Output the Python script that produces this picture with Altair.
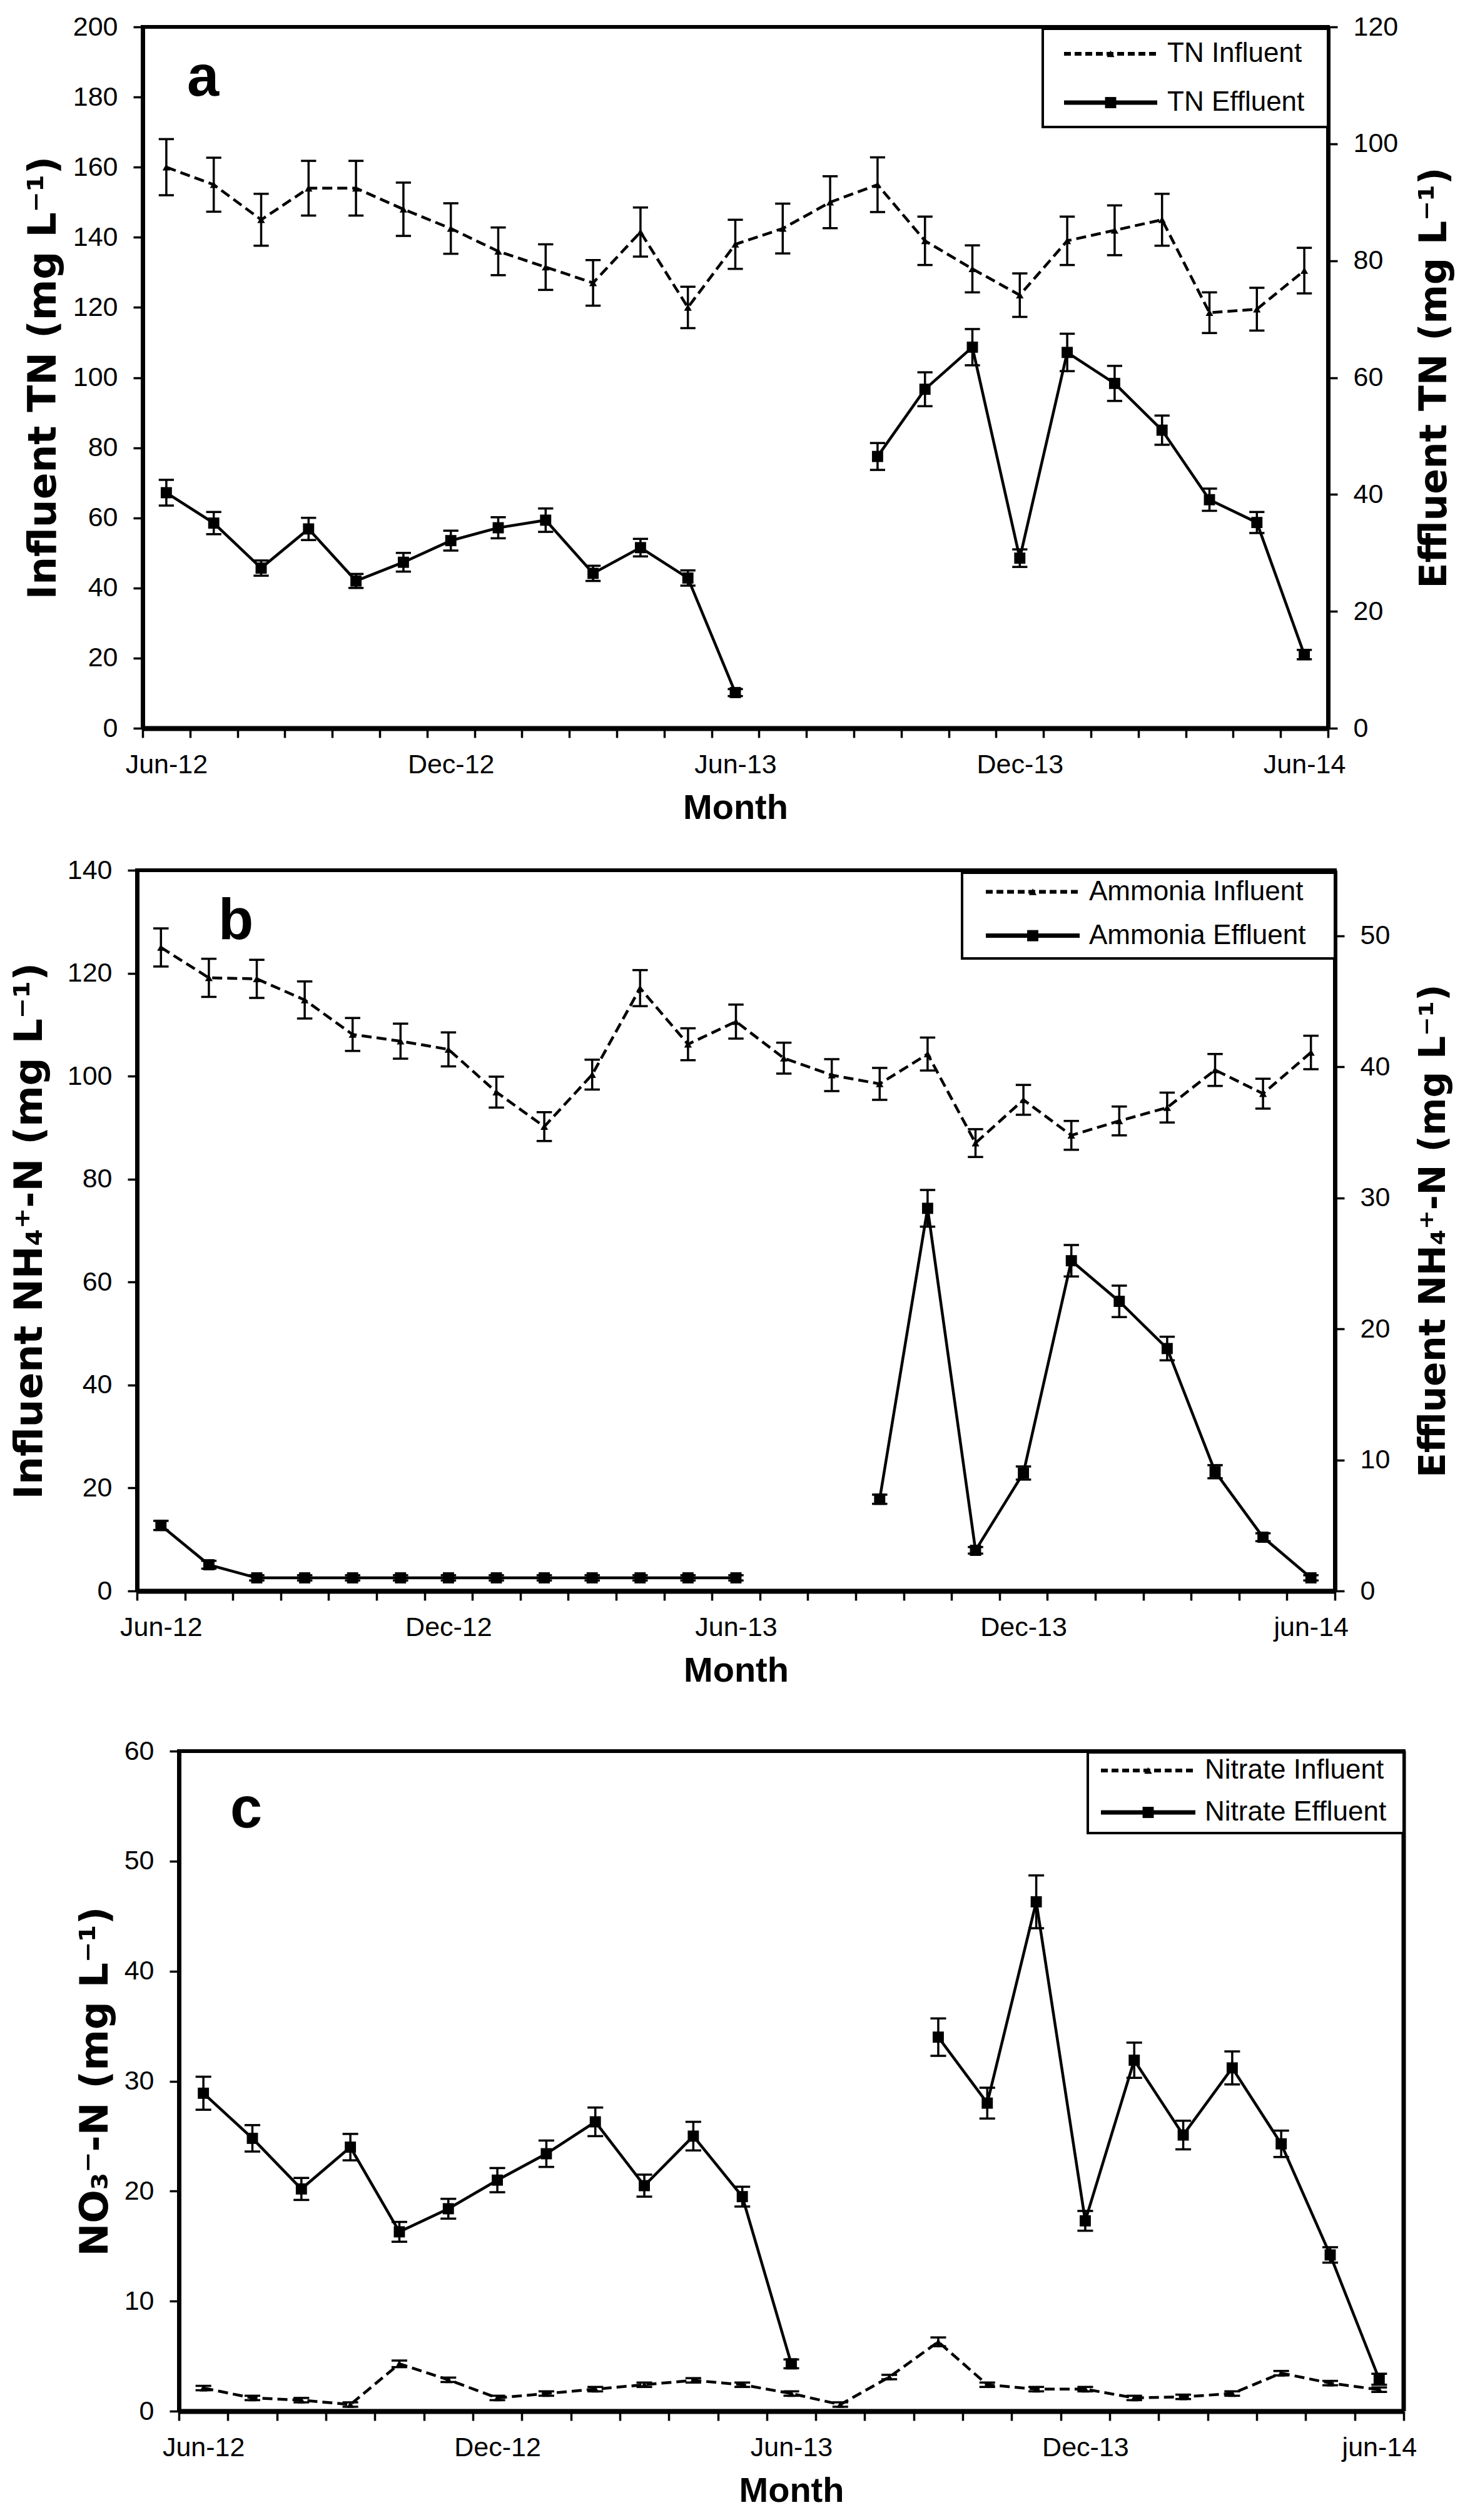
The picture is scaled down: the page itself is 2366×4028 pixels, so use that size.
import altair as alt
import pandas as pd

# ---------------- data ----------------
months = ["Jun-12", "Jul-12", "Aug-12", "Sep-12", "Oct-12", "Nov-12", "Dec-12",
          "Jan-13", "Feb-13", "Mar-13", "Apr-13", "May-13", "Jun-13", "Jul-13",
          "Aug-13", "Sep-13", "Oct-13", "Nov-13", "Dec-13", "Jan-14", "Feb-14",
          "Mar-14", "Apr-14", "May-14", "Jun-14"]

xlabels_a = ["Jun-12", "Dec-12", "Jun-13", "Dec-13", "Jun-14"]
xlabels_bc = ["Jun-12", "Dec-12", "Jun-13", "Dec-13", "jun-14"]

# Panel a: TN (influent on left axis, effluent on right axis)
tn_inf = [160, 155, 145, 154, 154, 148, 142.5, 136, 131.5, 127, 141.5, 120, 138,
          142.5, 150, 155, 139, 131, 123.5, 139, 142, 145, 118.5, 119.5, 130.5]
tn_inf_err = [8, 7.7, 7.4, 7.8, 7.8, 7.6, 7.2, 6.8, 6.5, 6.5, 7, 5.9, 7,
              7.1, 7.4, 7.8, 6.9, 6.7, 6.2, 6.9, 7.1, 7.4, 5.8, 6.1, 6.5]
tn_eff = [40.3, 35.1, 27.4, 34.1, 25.2, 28.4, 32.1, 34.3, 35.6, 26.5, 30.9, 25.7, 6.1,
          None, None, 46.5, 58, 65.2, 29.1, 64.3, 59.0, 51.0, 39.1, 35.2, 12.6]
tn_eff_err = [2.2, 1.9, 1.3, 1.9, 1.2, 1.6, 1.7, 1.8, 2.0, 1.3, 1.5, 1.3, 0.6,
              None, None, 2.3, 2.9, 3.1, 1.5, 3.2, 3.0, 2.5, 1.9, 1.8, 0.8]

# Panel b: ammonia (influent left axis, effluent right axis)
nh_inf = [125, 119.1, 118.9, 114.8, 108.1, 106.8, 105.2, 96.9, 90.2, 100.3, 117.1, 106.2, 110.6,
          103.5, 100.2, 98.5, 104.3, 87, 95.4, 88.5, 91.3, 93.9, 101.2, 96.6, 104.6]
nh_inf_err = [3.7, 3.7, 3.7, 3.6, 3.2, 3.4, 3.3, 3.0, 2.8, 2.9, 3.5, 3.1, 3.3,
              3.0, 3.1, 3.1, 3.2, 2.7, 2.9, 2.8, 2.8, 2.9, 3.1, 2.9, 3.25]
nh_eff = [5.0, 2.0, 1.0, 1.0, 1.0, 1.0, 1.0, 1.0, 1.0, 1.0, 1.0, 1.0, 1.0,
          None, None, 7.0, 29.2, 3.1, 9.0, 25.2, 22.1, 18.5, 9.1, 4.1, 1.0]
nh_eff_err = [0.35, 0.3, 0.2, 0.2, 0.2, 0.2, 0.2, 0.2, 0.2, 0.2, 0.2, 0.2, 0.2,
              None, None, 0.35, 1.4, 0.25, 0.5, 1.2, 1.2, 0.9, 0.5, 0.3, 0.2]

# Panel c: nitrate (single axis)
no3_inf = [2.1, 1.2, 1.0, 0.6, 4.3, 2.85, 1.2, 1.6, 2.0, 2.4, 2.8, 2.4, 1.6,
           0.6, 3.1, 6.3, 2.4, 2.0, 2.0, 1.2, 1.3, 1.6, 3.45, 2.55, 1.95]
no3_inf_err = [0.2, 0.2, 0.2, 0.2, 0.3, 0.2, 0.2, 0.2, 0.2, 0.2, 0.2, 0.2, 0.2,
               0.2, 0.2, 0.4, 0.2, 0.2, 0.2, 0.2, 0.2, 0.2, 0.2, 0.2, 0.2]
no3_eff = [28.9, 24.8, 20.2, 24.0, 16.3, 18.4, 21.0, 23.4, 26.3, 20.5, 25.0, 19.5, 4.3,
           None, None, 34.0, 28.0, 46.3, 17.3, 31.9, 25.1, 31.2, 24.3, 14.2, 2.9]
no3_eff_err = [1.5, 1.2, 1.0, 1.2, 0.9, 0.9, 1.1, 1.2, 1.3, 1.0, 1.3, 0.9, 0.4,
               None, None, 1.7, 1.4, 2.4, 0.9, 1.6, 1.3, 1.5, 1.2, 0.7, 0.5]

legend_a = ["TN Influent", "TN Effluent"]
legend_b = ["Ammonia Influent", "Ammonia Effluent"]
legend_c = ["Nitrate Influent", "Nitrate Effluent"]

# ---------------- layout constants (pixels) ----------------
LEFT_EXT = 210   # common left extent of every panel group
TOP_EXT = 34     # common top extent of every panel group


# ---------------- helpers ----------------
def series_df(vals, errs):
    rows = []
    seg = 0
    prev_missing = False
    for i, (m, v, e) in enumerate(zip(months, vals, errs)):
        if v is None:
            prev_missing = True
            continue
        if prev_missing:
            seg += 1
            prev_missing = False
        rows.append({"month": m, "idx": i, "val": v, "lo": v - e, "hi": v + e,
                     "seg": f"s{seg}"})
    return pd.DataFrame(rows)


def x_axis(labels, width):
    bw = width / len(months)
    parts = []
    for lab in labels:
        k = months.index(lab[0].upper() + lab[1:])
        parts.append(f"datum.value == {k} ? '{lab}'")
    expr = " : ".join(parts) + " : ''"
    return alt.Axis(values=list(range(len(months) + 1)), labelExpr=expr,
                    labelOffset=bw / 2, labelFlush=False, labelOverlap=False,
                    labelFontSize=43, labelPadding=22, tickSize=15, tickWidth=3.5,
                    domainWidth=8, title="Month", titleFont="Liberation Sans",
                    titleFontWeight="bold", titleFontSize=56, titlePadding=20)


def y_axis(title, ticks, orient, title_pad, offset=0, title_size=63):
    kw = dict(orient=orient, values=ticks, title=title, format="d",
              titleFont="DejaVu Sans", titleFontWeight="bold", titleFontSize=title_size,
              titleAngle=270, titlePadding=title_pad, labelFontSize=43,
              labelPadding=25, tickSize=15, tickWidth=3.5, domainWidth=7)
    if orient == "right":
        kw["titleBaseline"] = "top"
    if offset:
        kw["offset"] = offset
    return alt.Axis(**kw)


def series_layers(df, xs, xax, yscale, yax, dashed, shape, msize):
    base = alt.Chart(df).transform_calculate(
        pos="datum.idx + 0.5", cl="datum.idx + 0.34", cr="datum.idx + 0.66")

    def X(f):
        return alt.X(f"{f}:Q", scale=xs, axis=xax)

    def Y(f):
        return alt.Y(f"{f}:Q", scale=yscale, axis=yax)

    if dashed:
        line = base.mark_line(color="black", strokeWidth=4.5, strokeDash=[16, 8])
    else:
        line = base.mark_line(color="black", strokeWidth=4.5)
    line = line.encode(x=X("pos"), y=Y("val"), detail="seg:N")
    bars = base.mark_rule(color="black", strokeWidth=3.5).encode(
        x=X("pos"), y=Y("lo"), y2="hi")
    cap_hi = base.mark_rule(color="black", strokeWidth=3.5).encode(
        x=X("cl"), x2="cr", y=Y("hi"))
    cap_lo = base.mark_rule(color="black", strokeWidth=3.5).encode(
        x=X("cl"), x2="cr", y=Y("lo"))
    pts = base.mark_point(shape=shape, filled=True, color="black", opacity=1,
                          size=msize).encode(x=X("pos"), y=Y("val"))
    return alt.layer(line, bars, cap_hi, cap_lo, pts)


def one():
    return pd.DataFrame({"k": [0]})


def legend_layers(names, d, width, g):
    layers = []
    layers.append(alt.Chart(one()).mark_rect(fill="white", stroke="black", strokeWidth=4).encode(
        x=alt.value(d + g["bx"]), x2=alt.value(d + width),
        y=alt.value(g["by0"]), y2=alt.value(g["by1"])))
    for j, name in enumerate(names):
        ry = g["rows"][j]
        if j == 0:
            ln = alt.Chart(one()).mark_rule(color="black", strokeWidth=6, strokeDash=[11, 6])
            mk = alt.Chart(one()).mark_point(shape="triangle-up", filled=True, color="black",
                                             opacity=1, size=150)
        else:
            ln = alt.Chart(one()).mark_rule(color="black", strokeWidth=7)
            mk = alt.Chart(one()).mark_point(shape="square", filled=True, color="black",
                                             opacity=1, size=320)
        layers.append(ln.encode(x=alt.value(d + g["lx0"]), x2=alt.value(d + g["lx1"]),
                                y=alt.value(ry)))
        layers.append(mk.encode(x=alt.value(d + (g["lx0"] + g["lx1"]) / 2), y=alt.value(ry)))
        layers.append(alt.Chart(pd.DataFrame({"t": [name]})).mark_text(
            align="left", baseline="middle", font="Liberation Sans", fontSize=44,
            color="black").encode(x=alt.value(d + g["tx"]), y=alt.value(ry), text="t:N"))
    return layers


def frame_layers(d, w, h, right_edge):
    top = alt.Chart(one()).mark_rule(color="black", strokeWidth=6).encode(
        x=alt.value(d - 3), x2=alt.value(d + w + 3), y=alt.value(0))
    out = [top]
    if right_edge:
        out.append(alt.Chart(one()).mark_rule(color="black", strokeWidth=7).encode(
            x=alt.value(d + w), y=alt.value(0), y2=alt.value(h)))
    return out


def letter_layer(letter, x, y):
    return alt.Chart(pd.DataFrame({"t": [letter]})).mark_text(
        align="left", baseline="alphabetic", font="Liberation Sans", fontWeight="bold",
        fontSize=92, color="black").encode(x=alt.value(x), y=alt.value(y), text="t:N")


def anchor_layers(h, b, right=None):
    a1 = alt.Chart(one()).mark_point(opacity=0, size=1, filled=True).encode(
        x=alt.value(-LEFT_EXT), y=alt.value(-TOP_EXT))
    a2 = alt.Chart(one()).mark_point(opacity=0, size=1, filled=True).encode(
        x=alt.value(-LEFT_EXT), y=alt.value(h + b))
    out = [a1, a2]
    if right is not None:
        out.append(alt.Chart(one()).mark_point(opacity=0, size=1, filled=True).encode(
            x=alt.value(right), y=alt.value(h / 2)))
    return out


def xscale(d, w):
    return alt.Scale(domain=[0, len(months)], range=[d, d + w], nice=False, zero=False)


# ---------------- panel a ----------------
da, wa, ha = 9, 1895, 1121
xsa, xa = xscale(da, wa), x_axis(xlabels_a, wa)
inf_a = series_layers(series_df(tn_inf, tn_inf_err), xsa, xa,
                      alt.Scale(domain=[0, 200], nice=False),
                      y_axis("Influent TN (mg L⁻¹)", list(range(0, 201, 20)), "left", 15, -da),
                      True, "triangle-up", 150)
eff_a = series_layers(series_df(tn_eff, tn_eff_err), xsa, xa,
                      alt.Scale(domain=[0, 120], nice=False),
                      y_axis("Effluent TN (mg L⁻¹)", list(range(0, 121, 20)), "right", 30,
                             title_size=60),
                      False, "square", 320)
geo_a = dict(bx=1439, by0=3, by1=160, lx0=1473, lx1=1622, tx=1638, rows=[43, 121])
panel_a = alt.layer(inf_a, eff_a, *frame_layers(da, wa, ha, False),
                    *legend_layers(legend_a, da, wa, geo_a),
                    letter_layer("a", da + 71, 110), *anchor_layers(ha, 191)
                    ).resolve_scale(y="independent").properties(width=da + wa, height=ha)

# ---------------- panel b ----------------
db, wb, hb = 0, 1915, 1152
xsb, xb = xscale(db, wb), x_axis(xlabels_bc, wb)
inf_b = series_layers(series_df(nh_inf, nh_inf_err), xsb, xb,
                      alt.Scale(domain=[0, 140], nice=False),
                      y_axis("Influent NH₄⁺-N (mg L⁻¹)", list(range(0, 141, 20)), "left", 28, -db),
                      True, "triangle-up", 150)
eff_b = series_layers(series_df(nh_eff, nh_eff_err), xsb, xb,
                      alt.Scale(domain=[0, 55], nice=False),
                      y_axis("Effluent NH₄⁺-N (mg L⁻¹)", list(range(0, 51, 10)), "right", 42,
                             title_size=58),
                      False, "square", 320)
geo_b = dict(bx=1319, by0=4, by1=141, lx0=1357, lx1=1507, tx=1522, rows=[34.5, 104.6])
panel_b = alt.layer(inf_b, eff_b, *frame_layers(db, wb, hb, False),
                    *legend_layers(legend_b, db, wb, geo_b),
                    letter_layer("b", db + 130, 110),
                    *anchor_layers(hb, 220, right=db + wb + 210)
                    ).resolve_scale(y="independent").properties(width=db + wb, height=hb)

# ---------------- panel c ----------------
dc, wc, hc = 67, 1958, 1055
xsc, xc = xscale(dc, wc), x_axis(xlabels_bc, wc)
yc_scale = alt.Scale(domain=[0, 60], nice=False)
yc_axis = y_axis("NO₃⁻-N (mg L⁻¹)", list(range(0, 61, 10)), "left", 14, -dc)
inf_c = series_layers(series_df(no3_inf, no3_inf_err), xsc, xc, yc_scale, yc_axis,
                      True, "triangle-up", 150)
eff_c = series_layers(series_df(no3_eff, no3_eff_err), xsc, xc, yc_scale, yc_axis,
                      False, "square", 320)
geo_c = dict(bx=1453, by0=2, by1=131, lx0=1474, lx1=1625, tx=1640, rows=[31, 98])
panel_c = alt.layer(inf_c, eff_c, *frame_layers(dc, wc, hc, True),
                    *legend_layers(legend_c, dc, wc, geo_c),
                    letter_layer("c", dc + 82, 122), *anchor_layers(hc, 165)
                    ).properties(width=dc + wc, height=hc)

chart = alt.vconcat(panel_a, panel_b, panel_c, spacing=0).properties(
    padding=0).configure_view(stroke="transparent", strokeWidth=0).configure_axis(
    labelFont="Liberation Sans", labelColor="black", domainColor="black",
    tickColor="black", titleColor="black", grid=False)

chart.save("out.html", embed_options={"renderer": "svg", "actions": False})
